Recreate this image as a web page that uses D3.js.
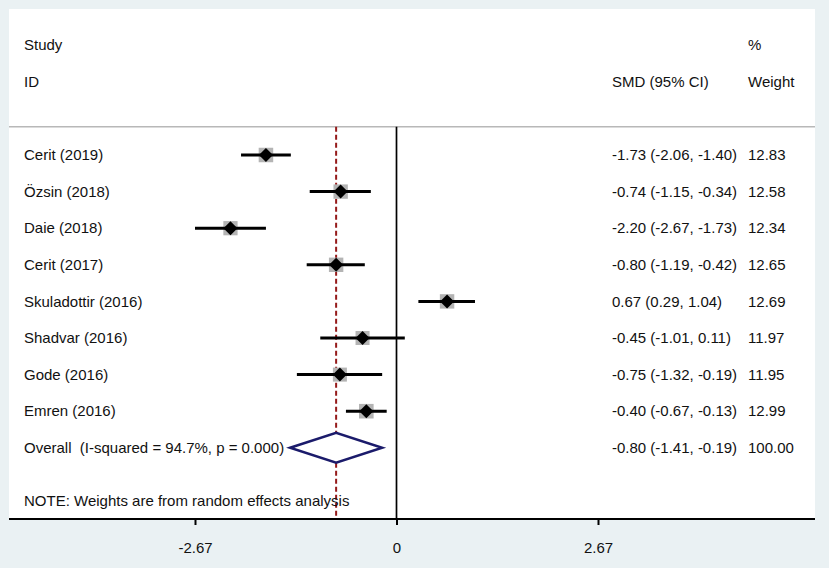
<!DOCTYPE html>
<meta charset="utf-8">
<script src="https://d3js.org/d3.v7.min.js"></script>
<style>
  body { margin: 0; background: #eaf1f3; }
  text { font-family: "Liberation Sans", Arial, Helvetica, sans-serif; font-size: 15px; fill: #111; white-space: pre; }
</style>
<body>
<div id="chart"></div>
<script>
  var studies = ["Cerit (2019)", "Özsin (2018)", "Daie (2018)", "Cerit (2017)",
                 "Skuladottir (2016)", "Shadvar (2016)", "Gode (2016)", "Emren (2016)"];
  var smd    = [-1.73, -0.74, -2.20, -0.80, 0.67, -0.45, -0.75, -0.40];
  var lower  = [-2.06, -1.15, -2.67, -1.19, 0.29, -1.01, -1.32, -0.67];
  var upper  = [-1.40, -0.34, -1.73, -0.42, 1.04,  0.11, -0.19, -0.13];
  var weight = [12.83, 12.58, 12.34, 12.65, 12.69, 11.97, 11.95, 12.99];

  var overall = {label: "Overall  (I-squared = 94.7%, p = 0.000)", est: -0.80, lo: -1.41, hi: -0.19, w: 100.00};
  var note = "NOTE: Weights are from random effects analysis";
  var tickVals = [-2.67, 0, 2.67];
  var tickLabels = ["-2.67", "0", "2.67"];

  var W = 829, H = 568;
  var svg = d3.select("#chart").append("svg")
      .attr("width", W).attr("height", H);

  // plot region (white box)
  var boxL = 9, boxR = 815, boxT = 9, axisY = 519;
  svg.append("rect").attr("x", boxL).attr("y", boxT)
      .attr("width", boxR - boxL).attr("height", axisY - boxT)
      .style("fill", "#fff");

  var x = d3.scaleLinear().domain([-2.67, 2.67]).range([195, 598]);
  // row index -> y
  var y = d3.scaleLinear().domain([0, 1]).range([155, 191.6]);

  var colLabel = 24, colSmd = 612, colW = 748;

  // header
  svg.append("text").attr("x", colLabel).attr("y", y(-3)).attr("dy", ".35em").text("Study");
  svg.append("text").attr("x", colLabel).attr("y", y(-2)).attr("dy", ".35em").text("ID");
  svg.append("text").attr("x", colSmd).attr("y", y(-2)).attr("dy", ".35em").text("SMD (95% CI)");
  svg.append("text").attr("x", colW).attr("y", y(-3)).attr("dy", ".35em").text("%");
  svg.append("text").attr("x", colW).attr("y", y(-2)).attr("dy", ".35em").text("Weight");

  var lineY = y(-0.77);
  svg.append("line").attr("x1", boxL).attr("x2", boxR)
      .attr("y1", lineY).attr("y2", lineY)
      .style("stroke", "#b8b8b8").style("stroke-width", 1.5);

  // zero line and overall dashed line
  svg.append("line").attr("x1", x(0)).attr("x2", x(0))
      .attr("y1", lineY).attr("y2", axisY)
      .style("stroke", "#000").style("stroke-width", 1.7);
  svg.append("line").attr("x1", x(overall.est)).attr("x2", x(overall.est))
      .attr("y1", lineY).attr("y2", axisY)
      .style("stroke", "#951a1a").style("stroke-width", 2)
      .style("stroke-dasharray", "5,3");

  var fmt = function(v) { return v.toFixed(2); };
  var rows = studies.map(function(s, i) {
    return {label: s, est: smd[i], lo: lower[i], hi: upper[i], w: weight[i], i: i};
  });
  var side = function(d) { return 4.05 * Math.sqrt(d.w); };

  var g = svg.selectAll("g.row").data(rows).enter().append("g").attr("class", "row");

  g.append("rect")
      .attr("x", function(d) { return x(d.est) - side(d) / 2; })
      .attr("y", function(d) { return y(d.i) - side(d) / 2; })
      .attr("width", side)
      .attr("height", side)
      .style("fill", "#b4b4b4");

  g.append("line")
      .attr("x1", function(d) { return x(d.lo); })
      .attr("x2", function(d) { return x(d.hi); })
      .attr("y1", function(d) { return y(d.i); })
      .attr("y2", function(d) { return y(d.i); })
      .style("stroke", "#000").style("stroke-width", 3);

  g.append("path")
      .attr("transform", function(d) { return "translate(" + x(d.est) + "," + y(d.i) + ")"; })
      .attr("d", "M0,-7L7,0L0,7L-7,0Z")
      .style("fill", "#000");

  g.append("text").attr("x", colLabel).attr("y", function(d) { return y(d.i); })
      .attr("dy", ".35em").text(function(d) { return d.label; });
  g.append("text").attr("x", colSmd).attr("y", function(d) { return y(d.i); })
      .attr("dy", ".35em")
      .text(function(d) { return fmt(d.est) + " (" + fmt(d.lo) + ", " + fmt(d.hi) + ")"; });
  g.append("text").attr("x", colW).attr("y", function(d) { return y(d.i); })
      .attr("dy", ".35em").text(function(d) { return fmt(d.w); });

  // overall
  var oy = y(8);
  svg.append("path")
      .attr("d", "M" + x(overall.lo) + "," + oy +
                 "L" + x(overall.est) + "," + (oy - 15) +
                 "L" + x(overall.hi) + "," + oy +
                 "L" + x(overall.est) + "," + (oy + 15) + "Z")
      .style("fill", "#fff").style("stroke", "#1b1b6b").style("stroke-width", 2.5);
  svg.append("text").attr("x", colLabel).attr("y", oy).attr("dy", ".35em").text(overall.label);
  svg.append("text").attr("x", colSmd).attr("y", oy).attr("dy", ".35em")
      .text(fmt(overall.est) + " (" + fmt(overall.lo) + ", " + fmt(overall.hi) + ")");
  svg.append("text").attr("x", colW).attr("y", oy).attr("dy", ".35em").text(fmt(overall.w));

  svg.append("text").attr("x", colLabel).attr("y", y(9.45)).attr("dy", ".35em").text(note);

  // axis
  var axis = d3.axisBottom(x).tickValues(tickVals).tickSize(6).tickPadding(17)
      .tickFormat(function(d, i) { return tickLabels[i]; });
  var ax = svg.append("g").attr("transform", "translate(0," + axisY + ")").call(axis);
  ax.select(".domain").remove();
  ax.selectAll(".tick line").style("stroke", "#000").style("stroke-width", 2);
  ax.selectAll(".tick text").style("font-size", "15px")
      .style("font-family", "'Liberation Sans', Arial, sans-serif").style("fill", "#111");
  svg.append("line").attr("x1", boxL).attr("x2", boxR)
      .attr("y1", axisY).attr("y2", axisY)
      .style("stroke", "#000").style("stroke-width", 2);
</script>
</body>
